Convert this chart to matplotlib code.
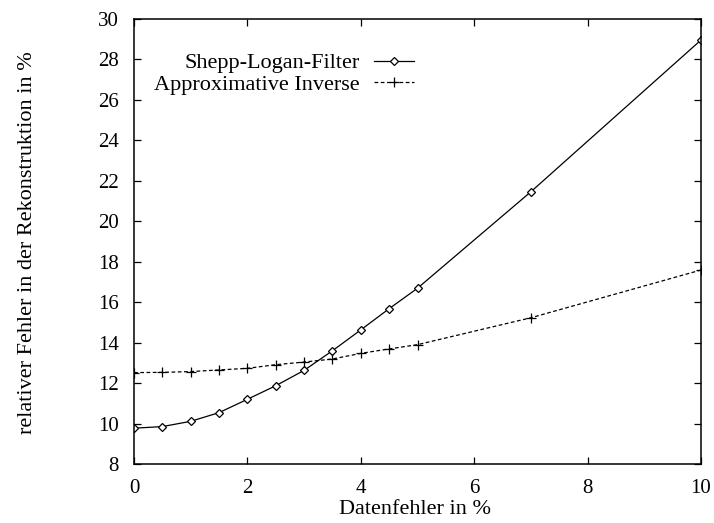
import matplotlib
matplotlib.use("Agg")
import matplotlib.pyplot as plt

# Daten
datenfehler = [0, 0.5, 1, 1.5, 2, 2.5, 3, 3.5, 4, 4.5, 5, 7, 10]
shepp_logan = [9.77, 9.85, 10.11, 10.54, 11.2, 11.87, 12.63, 13.6, 14.63, 15.68, 16.69, 21.46, 28.96]
approx_inverse = [12.52, 12.53, 12.57, 12.65, 12.73, 12.91, 13.04, 13.19, 13.47, 13.69, 13.9, 15.23, 17.59]

x_ticks = [0, 2, 4, 6, 8, 10]
y_ticks = [8, 10, 12, 14, 16, 18, 20, 22, 24, 26, 28, 30]

plt.rcParams['font.family'] = ['Liberation Serif', 'DejaVu Serif']
plt.rcParams['font.size'] = 16

fig = plt.figure(figsize=(7.14, 5.23), dpi=100)
ax = fig.add_axes([0.1877, 0.1128, 0.9818 - 0.1877, 0.9637 - 0.1128])

ax.plot(datenfehler, shepp_logan, color='black', linewidth=0.9,
        marker='D', markersize=4.3, markerfacecolor='white',
        markeredgewidth=0.9, label='Shepp-Logan-Filter')
ax.plot(datenfehler, approx_inverse, color='black', linewidth=0.9,
        linestyle=(0, (3, 2)), marker='+', markersize=6.5,
        markeredgewidth=0.9, label='Approximative Inverse')

ax.set_xlim(0, 10)
ax.set_ylim(8, 30)
ax.set_xticks(x_ticks)
ax.set_yticks(y_ticks)
ax.tick_params(direction='in', top=True, right=True, length=5, width=0.9,
               pad=11, labelsize=15)
for s in ax.spines.values():
    s.set_linewidth(1.1)

ax.set_xlabel('Datenfehler in %')
ax.xaxis.set_label_coords(0.496, -0.082)
ax.set_ylabel('relativer Fehler in der Rekonstruktion in %')
ax.yaxis.set_label_coords(-0.171, 0.498)

leg = ax.legend(loc='upper right', bbox_to_anchor=(0.494, 0.924), frameon=False,
                markerfirst=False, handlelength=1.8, handletextpad=0.64,
                labelspacing=0.05, borderaxespad=0.0, borderpad=0.0)
for t in leg.get_texts():
    t.set_ha('right')
leg._legend_box.align = 'right'

fig.savefig('out.png', dpi=100)
